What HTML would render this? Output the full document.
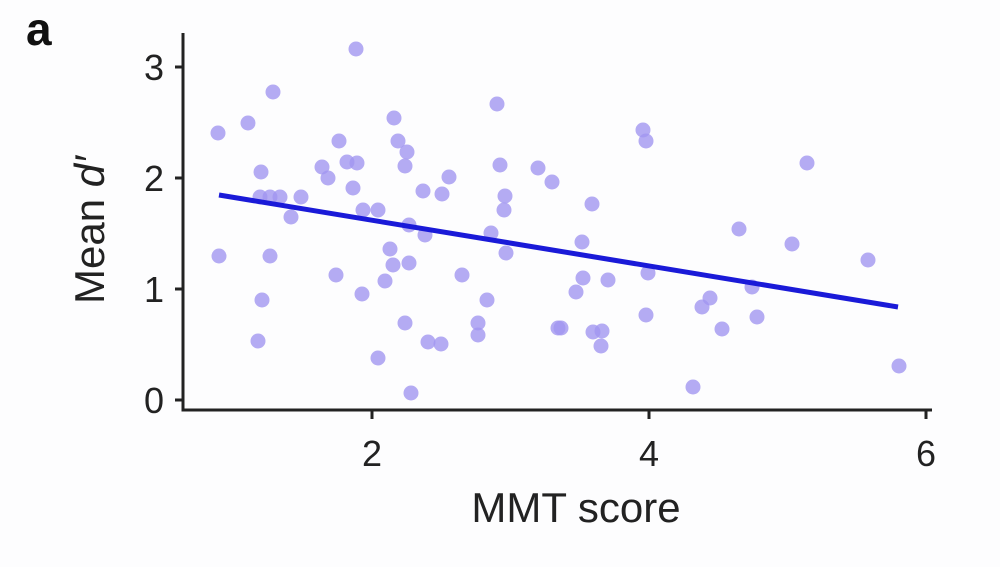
<!DOCTYPE html><html><head><style>body{margin:0;background:#fdfdfe}</style></head><body>
<svg width="1000" height="562" xmlns="http://www.w3.org/2000/svg" font-family="Liberation Sans, sans-serif">
<rect width="1000" height="562" fill="#fdfdfe"/>
<text x="26" y="45" font-size="46" font-weight="bold" fill="#111">a</text>
<g fill="#a196f0" fill-opacity="0.8">
<circle cx="356" cy="49" r="7.5"/><circle cx="273" cy="92" r="7.5"/><circle cx="248" cy="123" r="7.5"/><circle cx="218" cy="133" r="7.5"/><circle cx="339" cy="141" r="7.5"/><circle cx="394" cy="118" r="7.5"/><circle cx="398" cy="141" r="7.5"/><circle cx="407" cy="152" r="7.5"/><circle cx="405" cy="166" r="7.5"/><circle cx="347" cy="162" r="7.5"/><circle cx="357" cy="163" r="7.5"/><circle cx="322" cy="167" r="7.5"/><circle cx="328" cy="178" r="7.5"/><circle cx="261" cy="172" r="7.5"/><circle cx="353" cy="188" r="7.5"/><circle cx="449" cy="177" r="7.5"/><circle cx="423" cy="191" r="7.5"/><circle cx="442" cy="194" r="7.5"/><circle cx="497" cy="104" r="7.5"/><circle cx="500" cy="165" r="7.5"/><circle cx="538" cy="168" r="7.5"/><circle cx="552" cy="182" r="7.5"/><circle cx="505" cy="196" r="7.5"/><circle cx="504" cy="210" r="7.5"/><circle cx="260" cy="197" r="7.5"/><circle cx="270" cy="197" r="7.5"/><circle cx="280" cy="197" r="7.5"/><circle cx="301" cy="197" r="7.5"/><circle cx="291" cy="217" r="7.5"/><circle cx="363" cy="210" r="7.5"/><circle cx="378" cy="210" r="7.5"/><circle cx="409" cy="225" r="7.5"/><circle cx="425" cy="235" r="7.5"/><circle cx="491" cy="233" r="7.5"/><circle cx="506" cy="253" r="7.5"/><circle cx="219" cy="256" r="7.5"/><circle cx="270" cy="256" r="7.5"/><circle cx="390" cy="249" r="7.5"/><circle cx="393" cy="265" r="7.5"/><circle cx="409" cy="263" r="7.5"/><circle cx="336" cy="275" r="7.5"/><circle cx="385" cy="281" r="7.5"/><circle cx="462" cy="275" r="7.5"/><circle cx="362" cy="294" r="7.5"/><circle cx="487" cy="300" r="7.5"/><circle cx="262" cy="300" r="7.5"/><circle cx="258" cy="341" r="7.5"/><circle cx="405" cy="323" r="7.5"/><circle cx="478" cy="323" r="7.5"/><circle cx="478" cy="335" r="7.5"/><circle cx="428" cy="342" r="7.5"/><circle cx="441" cy="344" r="7.5"/><circle cx="378" cy="358" r="7.5"/><circle cx="411" cy="393" r="7.5"/><circle cx="558" cy="328" r="7.5"/>
<circle cx="643" cy="130" r="7.5"/><circle cx="646" cy="141" r="7.5"/><circle cx="807" cy="163" r="7.5"/><circle cx="592" cy="204" r="7.5"/><circle cx="739" cy="229" r="7.5"/><circle cx="582" cy="242" r="7.5"/><circle cx="792" cy="244" r="7.5"/><circle cx="868" cy="260" r="7.5"/><circle cx="648" cy="273" r="7.5"/><circle cx="583" cy="278" r="7.5"/><circle cx="576" cy="292" r="7.5"/><circle cx="608" cy="280" r="7.5"/><circle cx="752" cy="287" r="7.5"/><circle cx="710" cy="298" r="7.5"/><circle cx="702" cy="307" r="7.5"/><circle cx="646" cy="315" r="7.5"/><circle cx="757" cy="317" r="7.5"/><circle cx="561" cy="328" r="7.5"/><circle cx="593" cy="332" r="7.5"/><circle cx="602" cy="331" r="7.5"/><circle cx="601" cy="346" r="7.5"/><circle cx="722" cy="329" r="7.5"/><circle cx="899" cy="366" r="7.5"/><circle cx="693" cy="387" r="7.5"/>
</g>
<line x1="219" y1="195" x2="898" y2="307" stroke="#1a1ad8" stroke-width="5"/>
<g stroke="#222" stroke-width="3" fill="none">
<polyline points="183,33 183,410 932,410"/>
<line x1="175" y1="67" x2="183" y2="67"/><line x1="175" y1="178" x2="183" y2="178"/><line x1="175" y1="289" x2="183" y2="289"/><line x1="175" y1="400" x2="183" y2="400"/>
<line x1="372" y1="410" x2="372" y2="419"/><line x1="649" y1="410" x2="649" y2="419"/><line x1="926" y1="410" x2="926" y2="419"/>
</g>
<g font-size="36" fill="#222" text-anchor="end">
<text x="164" y="80">3</text><text x="164" y="191">2</text><text x="164" y="302">1</text><text x="164" y="413">0</text>
</g>
<g font-size="36" fill="#222" text-anchor="middle">
<text x="372" y="466">2</text><text x="649" y="466">4</text><text x="926" y="466">6</text>
<text x="576" y="522" font-size="42">MMT score</text>
<text transform="translate(104,230) rotate(-90)" font-size="42">Mean <tspan font-style="italic">d′</tspan></text>
</g>
</svg></body></html>
